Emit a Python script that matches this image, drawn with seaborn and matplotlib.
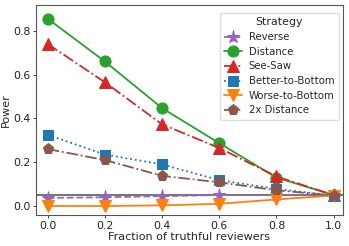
import matplotlib
matplotlib.use("Agg")
import matplotlib.pyplot as plt
import seaborn as sns
import pandas as pd

fractions = [0.0, 0.2, 0.4, 0.6, 0.8, 1.0]
reverse = [0.037, 0.040, 0.045, 0.050, 0.050, 0.050]
distance = [0.855, 0.660, 0.447, 0.287, 0.130, 0.050]
see_saw = [0.740, 0.565, 0.373, 0.265, 0.135, 0.050]
better_to_bottom = [0.325, 0.235, 0.190, 0.118, 0.078, 0.048]
worse_to_bottom = [0.000, 0.000, 0.003, 0.010, 0.030, 0.048]
double_distance = [0.260, 0.210, 0.138, 0.108, 0.072, 0.048]
alpha_level = 0.05

series = [
    ("Reverse", reverse, "*", "--", "tab:purple", 9.5),
    ("Distance", distance, "o", "-", "tab:green", 8),
    ("See-Saw", see_saw, "^", "-.", "tab:red", 8),
    ("Better-to-Bottom", better_to_bottom, "s", ":", "tab:blue", 7.5),
    ("Worse-to-Bottom", worse_to_bottom, "v", "-", "tab:orange", 8),
    ("2x Distance", double_distance, "p", "-.", "tab:brown", 8),
]

sns.set_theme(style="ticks")
plt.rcParams["font.family"] = ["DejaVu Sans"]

fig, ax = plt.subplots(figsize=(3.49, 2.46), dpi=100)

for name, vals, mk, ls, col, ms in series:
    df = pd.DataFrame({"Fraction": fractions, "Power": vals})
    sns.lineplot(data=df, x="Fraction", y="Power", ax=ax, label=name,
                 marker=mk, linestyle=ls, color=col, markersize=ms,
                 markeredgecolor=col, linewidth=1.3)

ax.axhline(alpha_level, color="#333333", linewidth=1.2, alpha=0.8, zorder=1.5)

ax.set_xticks(fractions)
ax.set_yticks([0.0, 0.2, 0.4, 0.6, 0.8])
ax.set_xlim(-0.041, 1.032)
ax.set_ylim(-0.041, 0.918)
ax.tick_params(labelsize=7.8, length=2.5, width=0.6, pad=1.5, colors="#222222")
ax.set_xlabel("Fraction of truthful reviewers", fontsize=8, labelpad=1)
ax.set_ylabel("Power", fontsize=8, labelpad=1.5)
for sp in ax.spines.values():
    sp.set_color("#555555")
    sp.set_linewidth(0.8)

leg = ax.legend(title="Strategy", loc="upper right",
                bbox_to_anchor=(0.988, 0.962), borderaxespad=0,
                fontsize=7.3, title_fontsize=7.9, handlelength=1.7,
                labelspacing=0.46, borderpad=0.45, handletextpad=0.7,
                framealpha=1)
leg.get_frame().set_edgecolor("#dddddd")

fig.subplots_adjust(left=0.103, right=0.982, top=0.98, bottom=0.126)
fig.savefig("out.png", dpi=100)
